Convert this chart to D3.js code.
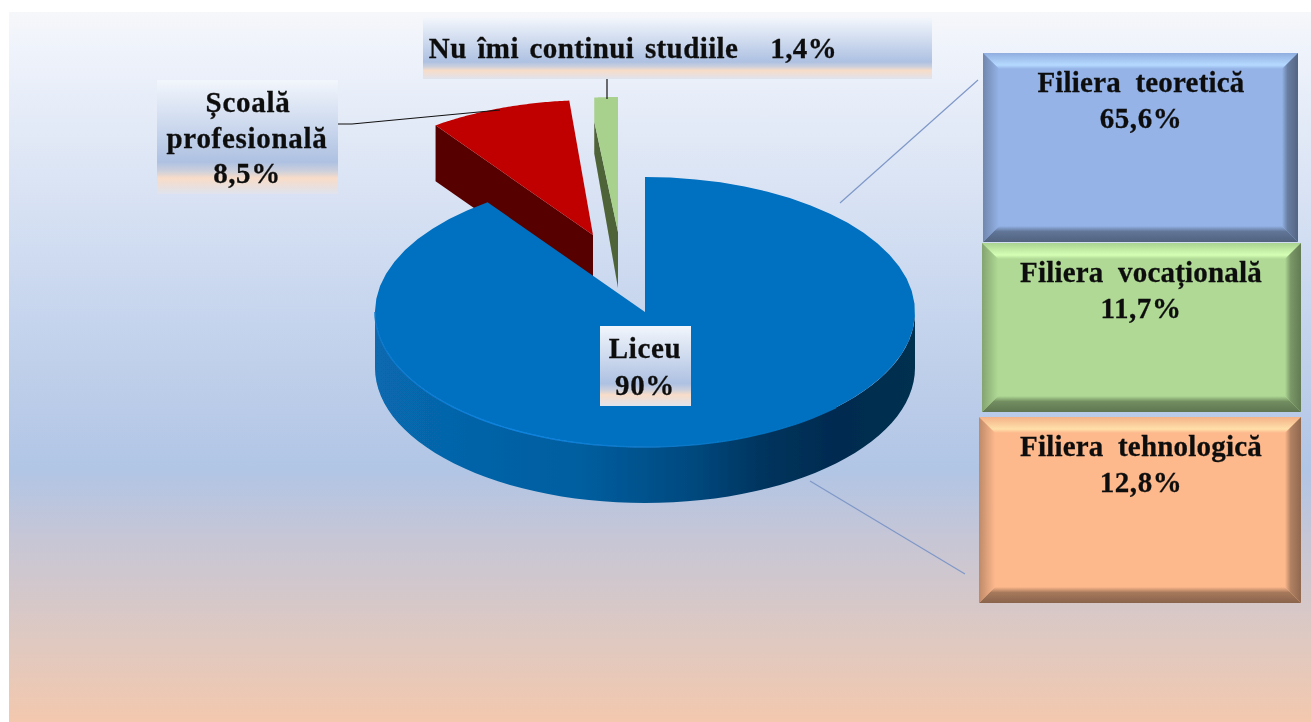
<!DOCTYPE html>
<html>
<head>
<meta charset="utf-8">
<script src="https://cdn.jsdelivr.net/npm/d3@7"></script>
<style>
html, body { margin: 0; padding: 0; background: #fff; overflow: hidden; }
svg { display: block; }
text { font-family: "Liberation Serif", serif; font-weight: bold; fill: #111; stroke: #111; stroke-width: 0.3px; text-anchor: middle; }
</style>
</head>
<body>
<svg id="chart" width="1311" height="722"></svg>
<script>
// data
var categories = ['Liceu', 'Școală profesională', 'Nu îmi continui studiile'];
var values = [90, 8.5, 1.4];
var valueLabels = ['90%', '8,5%', '1,4%'];
var sliceColors = ['#0070c0', '#c00000', '#a9d18e'];
var sideColors = ['#0565ab', '#560000', '#4f6338'];

var branches = ['Filiera teoretică', 'Filiera vocațională', 'Filiera tehnologică'];
var branchLabels = ['65,6%', '11,7%', '12,8%'];
var branchColors = ['#95b3e7', '#afd995', '#fdb88c'];

var svg = d3.select('#chart');
var defs = svg.append('defs');

// ----------------- GRADIENTS -----------------

function gradient(id, stops, horizontal) {
    var g = defs.append('linearGradient').attr('id', id)
        .attr('x1', 0).attr('y1', 0)
        .attr('x2', horizontal ? 1 : 0).attr('y2', horizontal ? 0 : 1);
    stops.forEach(function(s) {
        g.append('stop').attr('offset', s[0]).attr('stop-color', s[1]);
    });
}

gradient('bg', [[0, '#f6f7fa'], [0.05, '#eff3fb'], [0.36, '#cddaf0'], [0.645, '#b1c5e5'], [0.74, '#c6c6d6'], [0.885, '#dfc9c1'], [1, '#f3c8ae']]);
gradient('labelBg', [[0, '#f2f6fc'], [0.72, '#aec1e2'], [0.8, '#cdd0dc'], [0.86, '#f8dcc8'], [1, '#dfe3ee']]);
gradient('wall', [[0, '#0769b0'], [0.38, '#045e9f'], [0.58, '#034a80'], [0.72, '#02345e'], [0.85, '#022b50'], [1, '#04304f']], true);
gradient('rim', [[0, '#0a78cc'], [0.3, '#0f84e0'], [0.6, '#0a78c8'], [1, '#0070c0']], true);

// the picture is a soft upscale, so edges are a little blurred
var soft = defs.append('filter').attr('id', 'soft');
soft.append('feGaussianBlur').attr('stdDeviation', 0.5);

svg.append('rect').attr('width', 1311).attr('height', 722).attr('fill', '#fff');
svg.append('rect').attr('x', 9).attr('y', 12).attr('width', 1302).attr('height', 710).attr('fill', 'url(#bg)');

// ----------------- PIE -----------------

var cx = 645, cy = 312, rx = 270, ry = 135, depth = 56;
var sliceShift = [[0, 0], [-52, -77], [-27, -80]];
var cutDrop = [0, 0, 24];   // green slice shows more of its top on the left

var arcs = d3.pie().sort(null)(values);
var line = d3.line();

function project(angle, o) {
    return [o[0] + rx * Math.sin(angle), o[1] - ry * Math.cos(angle)];
}

function arcPoints(a0, a1, o, dy) {
    return d3.range(0, 61).map(function(k) {
        var p = project(a0 + (a1 - a0) * k / 60, o);
        return [p[0], p[1] + (dy || 0)];
    });
}

// the small slices go first, the big one is laid over them
[1, 2, 0].forEach(function(i) {
    var d = arcs[i];
    var o = [cx + sliceShift[i][0], cy + sliceShift[i][1]];
    var g = svg.append('g').attr('class', 'slice').attr('filter', 'url(#soft)');
    var outer = project(d.startAngle, o);
    var cut = [outer[0], outer[1] + cutDrop[i]];

    if (i === 0) {
        var lower = arcPoints(Math.PI / 2, Math.PI * 1.5, o, 0);
        var upper = arcPoints(Math.PI * 1.5, Math.PI / 2, o, depth);
        g.append('path').attr('d', line(lower.concat(upper)) + 'Z').attr('fill', 'url(#wall)');
    } else {
        // flat cut face seen from the front
        g.append('path')
            .attr('d', line([o, cut, [outer[0], outer[1] + depth], [o[0], o[1] + depth]]) + 'Z')
            .attr('fill', sideColors[i]);
    }

    var top = arcPoints(d.startAngle, d.endAngle, o, 0);
    g.append('path').attr('d', line([o, cut].concat(top)) + 'Z').attr('fill', sliceColors[i]);

    if (i === 0) {
        g.append('path').attr('d', line(arcPoints(Math.PI * 1.5, Math.PI * 0.75, o, 0)))
            .attr('fill', 'none').attr('stroke', 'url(#rim)').attr('stroke-width', 1.5);
    }
});

// ----------------- LEADER LINES -----------------

function leader(pts, color, w) {
    svg.append('path').attr('d', line(pts)).attr('fill', 'none')
        .attr('stroke', color).attr('stroke-width', w);
}
leader([[338, 124], [352, 124], [500, 110]], '#111', 1.2);
leader([[607, 79], [607, 99]], '#111', 1.2);
leader([[840, 203], [978, 80]], '#7f98c8', 1.2);
leader([[810, 481], [965, 574]], '#7f98c8', 1.2);

// ----------------- LABELS -----------------

function labelBox(x, y, w, h) {
    svg.append('rect').attr('x', x).attr('y', y).attr('width', w).attr('height', h)
        .attr('fill', 'url(#labelBg)');
}

function label(str, x, y, spacing, wordGap) {
    svg.append('text').attr('x', x).attr('y', y).attr('filter', 'url(#soft)')
        .style('font-size', '29px').style('letter-spacing', (spacing || 0) + 'px')
        .style('word-spacing', (wordGap || 0) + 'px')
        .style('white-space', 'pre').text(str);
}

labelBox(423, 18, 509, 61);
label(categories[2] + '   ' + valueLabels[2], 633, 58, 0.4, 3);

labelBox(157, 80, 181, 114);
label('Școală', 248, 112, 0.7);
label('profesională', 247, 148, 0.7);
label(valueLabels[1], 247, 183, 0.6);

labelBox(600, 326, 91, 80);
label(categories[0], 645, 358, 0.6);
label(valueLabels[0], 645, 395, 0.6);

// ----------------- BRANCH BOXES -----------------

var boxX = [983, 982, 979];
var boxY = [53, 243, 417];
var boxW = [315, 319, 322];
var boxH = [189, 169, 186];
var bevel = 16;

branches.forEach(function(name, i) {
    var x0 = boxX[i], y0 = boxY[i], x1 = x0 + boxW[i], y1 = y0 + boxH[i];
    var col = d3.color(branchColors[i]);
    var g = svg.append('g').attr('class', 'branch').attr('filter', 'url(#soft)');
    var id = 'bevel' + i;

    gradient(id + 't', [[0, col.darker(0.1)], [0.75, col.brighter(0.55)], [1, col]]);
    gradient(id + 'b', [[0, col], [0.35, col.darker(1.2)], [1, col.darker(1.7)]]);
    gradient(id + 'l', [[0, col.darker(0.8)], [1, col]], true);
    gradient(id + 'r', [[0, col], [0.35, col.darker(1)], [1, col.darker(1.6)]], true);

    g.append('rect').attr('x', x0).attr('y', y0).attr('width', boxW[i]).attr('height', boxH[i]).attr('fill', col);
    g.append('path').attr('fill', 'url(#' + id + 't)')
        .attr('d', line([[x0, y0], [x1, y0], [x1 - bevel, y0 + bevel], [x0 + bevel, y0 + bevel]]) + 'Z');
    g.append('path').attr('fill', 'url(#' + id + 'b)')
        .attr('d', line([[x0, y1], [x1, y1], [x1 - bevel, y1 - bevel], [x0 + bevel, y1 - bevel]]) + 'Z');
    g.append('path').attr('fill', 'url(#' + id + 'l)')
        .attr('d', line([[x0, y0], [x0 + bevel, y0 + bevel], [x0 + bevel, y1 - bevel], [x0, y1]]) + 'Z');
    g.append('path').attr('fill', 'url(#' + id + 'r)')
        .attr('d', line([[x1, y0], [x1 - bevel, y0 + bevel], [x1 - bevel, y1 - bevel], [x1, y1]]) + 'Z');

    label(name, 1141, y0 + 39, 0.2, 7);
    label(branchLabels[i], 1141, y0 + 75, 0.6);
});
</script>
</body>
</html>
